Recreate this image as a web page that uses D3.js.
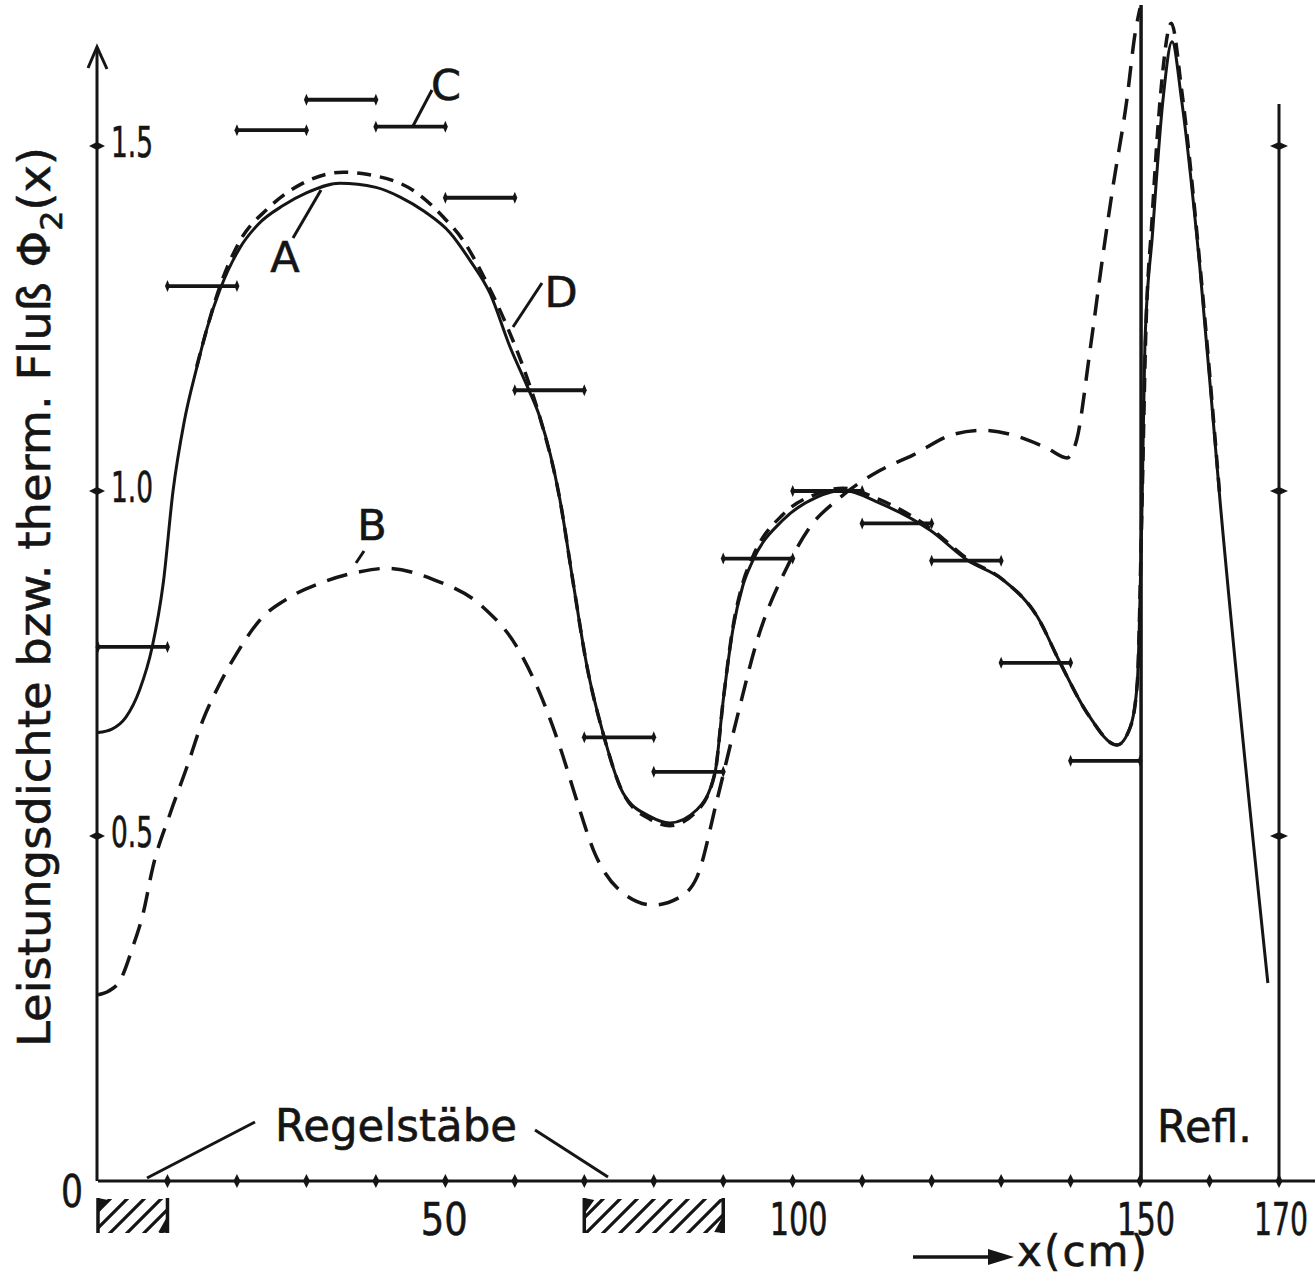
<!DOCTYPE html>
<html>
<head>
<meta charset="utf-8">
<script src="https://cdn.jsdelivr.net/npm/d3@7"></script>
<style>
  body { margin: 0; background: #fff; }
  svg { display: block; }
  text { font-family: "DejaVu Sans", sans-serif; fill: #151515; stroke: #151515; stroke-width: 0.6; }
</style>
</head>
<body>
<svg id="chart" width="1315" height="1277"></svg>
<script>
// Kurve A (ausgezogen): [x (cm), Phi]
var curveA = [
  [0, 0.650], [2, 0.655], [4, 0.672], [6, 0.712], [7.8, 0.774], [9.4, 0.867],
  [10.8, 1.000], [12.4, 1.100], [14.2, 1.178], [15.7, 1.236], [17.6, 1.293],
  [20.4, 1.352], [23, 1.386], [26.7, 1.414], [30, 1.432], [34.8, 1.446],
  [40, 1.440], [43.5, 1.426], [47, 1.405], [50.7, 1.374], [53.5, 1.335],
  [56.4, 1.287], [59.3, 1.209], [61.9, 1.149], [63.6, 1.107], [66.5, 0.987],
  [68.4, 0.867], [70.4, 0.745], [72.7, 0.649], [75.6, 0.562], [79.5, 0.528],
  [82.3, 0.519], [86.2, 0.538], [88.8, 0.591], [90.0, 0.697], [91.4, 0.800],
  [92.8, 0.862], [94.3, 0.900], [98.6, 0.958], [103.5, 0.991], [107.2, 1.001],
  [112.6, 0.982], [119.8, 0.943], [125.1, 0.900], [130.3, 0.871], [135.2, 0.818],
  [138.5, 0.751], [142.4, 0.678], [146.7, 0.632], [148.6, 0.658], [149.6, 0.722],
  [150.3, 0.987], [150.7, 1.214], [151.8, 1.374], [153.3, 1.567], [154.6, 1.651],
  [156.0, 1.565], [158.6, 1.325], [161.5, 0.987], [168.4, 0.287]
];

// Kurve B (gestrichelt, unten)
var curveB = [
  [0, 0.270], [1.5, 0.275], [3.2, 0.291], [5.0, 0.339], [6.5, 0.388], [7.9, 0.455],
  [10.4, 0.533], [12.8, 0.600], [15.1, 0.668], [17.6, 0.722], [20.0, 0.765],
  [23.3, 0.813], [27.6, 0.846], [32.4, 0.868], [37.7, 0.883], [41.6, 0.888],
  [48.2, 0.872], [55.4, 0.832], [60.3, 0.774], [63.6, 0.707], [66.5, 0.629],
  [68.9, 0.552], [71.3, 0.480], [75.6, 0.417], [79.9, 0.400], [83.5, 0.410],
  [86.2, 0.440], [89.1, 0.552], [92.0, 0.672], [94.9, 0.784], [99.2, 0.890],
  [102.5, 0.948], [106.4, 0.987], [112.6, 1.030], [117.3, 1.052], [123.1, 1.082],
  [127.4, 1.088], [132.7, 1.078], [136.6, 1.062], [139.5, 1.048], [140.9, 1.075],
  [142.8, 1.204], [144.7, 1.345], [146.1, 1.441], [148.1, 1.567], [149.3, 1.664],
  [150.0, 1.700]
];

// Kurve D (gestrichelt, dicht an A)
var curveD = [
  [14.2, 1.180], [17.6, 1.298], [20.4, 1.362], [24.3, 1.408], [29.1, 1.444],
  [35.3, 1.462], [38.7, 1.459], [45.9, 1.432], [49.7, 1.397], [52.5, 1.364],
  [56.0, 1.301], [58.3, 1.252], [61.9, 1.160], [63.6, 1.107], [66.5, 0.987],
  [68.4, 0.867], [70.4, 0.745], [72.7, 0.649], [75.6, 0.562], [79.5, 0.524],
  [82.3, 0.515], [86.2, 0.536], [88.8, 0.591], [90.0, 0.697], [91.4, 0.803],
  [92.8, 0.866], [94.3, 0.906], [98.6, 0.966], [103.5, 0.996], [107.2, 1.004],
  [112.6, 0.987], [119.8, 0.946], [125.1, 0.902], [130.3, 0.871], [135.2, 0.818],
  [138.5, 0.751], [142.4, 0.678], [146.7, 0.632], [148.6, 0.658], [149.6, 0.722],
  [150.3, 0.990], [150.8, 1.220], [151.7, 1.390], [153.0, 1.580], [154.5, 1.678],
  [156.0, 1.580], [158.6, 1.330], [161.5, 0.990]
];

// Histogramm C: Stufen je 10 cm
var binStart = [0, 10, 20, 30, 40, 50, 60, 70, 80, 90, 100, 110, 120, 130, 140];
var binValue = [0.774, 1.297, 1.523, 1.567, 1.528, 1.425, 1.146, 0.643, 0.593,
                0.902, 1.000, 0.953, 0.899, 0.751, 0.609];

var xTicks = [10, 20, 30, 40, 50, 60, 70, 80, 90, 100, 110, 120, 130, 140, 150, 160, 170];
var xTickLabels = [50, 100, 150, 170];
var yTicks = [0.5, 1.0, 1.5];
var yTickLabels = ["0.5", "1.0", "1.5"];
var rods = [[0, 10], [70, 90]];   // Regelstäbe

var svg = d3.select("#chart");
svg.append("rect").attr("width", 1315).attr("height", 1277).attr("fill", "#fff");

var x = d3.scaleLinear().domain([0, 170]).range([98, 1279]);
var y = d3.scaleLinear().domain([0, 1.5]).range([1181, 146]);

var ink = "#151515";

// Schraffur
var defs = svg.append("defs");
defs.append("pattern")
    .attr("id", "hatch")
    .attr("patternUnits", "userSpaceOnUse")
    .attr("width", 17).attr("height", 17)
  .append("path")
    .attr("d", "M-4,21 L21,-4 M-4,4 L4,-4 M13,21 L21,13")
    .attr("stroke", ink).attr("stroke-width", 3.2);

// Achsen
var g = svg.append("g");
g.append("line")
    .attr("x1", x(0)).attr("x2", 1315)
    .attr("y1", y(0)).attr("y2", y(0))
    .attr("stroke", ink).attr("stroke-width", 3.2);
g.append("line")
    .attr("x1", x(0) - 1).attr("x2", x(0) - 1)
    .attr("y1", y(0)).attr("y2", 48)
    .attr("stroke", ink).attr("stroke-width", 3);
g.append("path")
    .attr("d", "M88,68 L97,47 L107,69")
    .attr("fill", "none").attr("stroke", ink).attr("stroke-width", 3);

// Grenzen bei 150 und 170 cm
g.append("line")
    .attr("x1", x(150) + 1).attr("x2", x(150) + 1)
    .attr("y1", y(0)).attr("y2", 5)
    .attr("stroke", ink).attr("stroke-width", 3.5);
g.append("line")
    .attr("x1", x(170)).attr("x2", x(170))
    .attr("y1", y(0)).attr("y2", 104)
    .attr("stroke", ink).attr("stroke-width", 3);

function diamond(cx, cy, w, h) {
  return "M" + (cx - w) + "," + cy + "L" + cx + "," + (cy - h) + "L" + (cx + w) + "," + cy + "L" + cx + "," + (cy + h) + "Z";
}

// x-Ticks (Rauten)
g.selectAll(".xt").data(xTicks).enter().append("path")
    .attr("class", "xt")
    .attr("d", function(d) { return diamond(x(d), y(0), 3.5, 7); })
    .attr("fill", ink);

// y-Ticks links und rechts
g.selectAll(".yt").data(yTicks).enter().append("path")
    .attr("class", "yt")
    .attr("d", function(d) { return diamond(x(0) - 1, y(d), 8, 4); })
    .attr("fill", ink);
g.selectAll(".yt2").data(yTicks).enter().append("path")
    .attr("class", "yt2")
    .attr("d", function(d) { return diamond(x(170), y(d), 9, 4); })
    .attr("fill", ink);

// Tick-Beschriftungen
g.selectAll(".xl").data(xTickLabels).enter().append("text")
    .attr("class", "xl")
    .attr("x", function(d) { return x(d) + (d === 170 ? 2 : d >= 100 ? 6 : -1); })
    .attr("y", 1235)
    .attr("text-anchor", "middle")
    .attr("font-size", 45)
    .attr("textLength", function(d) { return d === 170 ? 54 : d >= 100 ? 58 : 47; })
    .attr("lengthAdjust", "spacingAndGlyphs")
    .text(function(d) { return d; });

g.selectAll(".yl").data(yTicks).enter().append("text")
    .attr("class", "yl")
    .attr("x", 111)
    .attr("y", function(d) { return y(d) + 11; })
    .attr("font-size", 42)
    .attr("textLength", 42)
    .attr("lengthAdjust", "spacingAndGlyphs")
    .text(function(d, i) { return yTickLabels[i]; });

g.append("text")
    .attr("x", 72).attr("y", 1207)
    .attr("text-anchor", "middle")
    .attr("font-size", 45)
    .attr("textLength", 22)
    .attr("lengthAdjust", "spacingAndGlyphs")
    .text("0");

// Regelstäbe (schraffiert)
var rod = g.selectAll(".rod").data(rods).enter().append("g").attr("class", "rod");
rod.append("rect")
    .attr("x", function(d) { return x(d[0]); })
    .attr("y", 1199)
    .attr("width", function(d) { return x(d[1]) - x(d[0]); })
    .attr("height", 34)
    .attr("fill", "url(#hatch)");
rod.append("path")
    .attr("d", function(d) {
      var a = x(d[0]), b = x(d[1]);
      return "M" + a + ",1198 L" + a + ",1233 M" + b + ",1198 L" + b + ",1233";
    })
    .attr("stroke", ink).attr("stroke-width", 3.5);
rod.append("path")
    .attr("d", function(d) {
      var a = x(d[0]), b = x(d[1]);
      return "M" + a + ",1198 L" + (a + 10) + ",1200 L" + a + ",1214 Z M" +
             b + ",1233 L" + (b - 9) + ",1232 L" + b + ",1216 Z";
    })
    .attr("fill", ink);

// Histogramm C
var bars = svg.append("g");
bars.selectAll(".bar").data(binStart).enter().append("line")
    .attr("class", "bar")
    .attr("x1", function(d) { return x(d); })
    .attr("x2", function(d) { return x(d + 10); })
    .attr("y1", function(d, i) { return y(binValue[i]); })
    .attr("y2", function(d, i) { return y(binValue[i]); })
    .attr("stroke", ink).attr("stroke-width", 3.8);
bars.selectAll(".cap").data(binStart.concat(binStart.map(function(d) { return d + 10; })))
  .enter().append("path")
    .attr("class", "cap")
    .attr("d", function(d, i) {
      var k = i % binStart.length;
      return diamond(x(d), y(binValue[k]), 2.5, 6);
    })
    .attr("fill", ink);

// Kurven
var line = d3.line()
    .x(function(d) { return x(d[0]); })
    .y(function(d) { return y(d[1]); })
    .curve(d3.curveMonotoneX);

var curves = svg.append("g").attr("fill", "none").attr("stroke", ink);
curves.append("path").datum(curveB)
    .attr("d", line)
    .attr("stroke-width", 3.5)
    .attr("stroke-dasharray", "21 12");
curves.append("path").datum(curveD)
    .attr("d", line)
    .attr("stroke-width", 3.5)
    .attr("stroke-dasharray", "14 9");
curves.append("path").datum(curveA)
    .attr("d", line)
    .attr("stroke-width", 3);

// Bezeichnungen
var labels = svg.append("g");
var leaders = [
  [293, 238, 321, 190],   // A
  [356, 563, 364, 551],   // B
  [413, 126, 432, 90],    // C
  [513, 327, 542, 283],   // D
  [147, 1178, 255, 1122], // Regelstäbe links
  [535, 1130, 608, 1177]  // Regelstäbe rechts
];
labels.selectAll(".lead").data(leaders).enter().append("line")
    .attr("class", "lead")
    .attr("x1", function(d) { return d[0]; }).attr("y1", function(d) { return d[1]; })
    .attr("x2", function(d) { return d[2]; }).attr("y2", function(d) { return d[3]; })
    .attr("stroke", ink).attr("stroke-width", 3);

var letters = [["A", 285, 272], ["B", 372, 540], ["C", 446, 100], ["D", 561, 307]];
labels.selectAll(".let").data(letters).enter().append("text")
    .attr("class", "let")
    .attr("x", function(d) { return d[1]; })
    .attr("y", function(d) { return d[2]; })
    .attr("text-anchor", "middle")
    .attr("font-size", 43)
    .text(function(d) { return d[0]; });

labels.append("text")
    .attr("x", 275).attr("y", 1141)
    .attr("font-size", 44)
    .attr("textLength", 242)
    .attr("lengthAdjust", "spacingAndGlyphs")
    .text("Regelstäbe");

labels.append("text")
    .attr("x", 1157).attr("y", 1142)
    .attr("font-size", 44)
    .attr("textLength", 95)
    .attr("lengthAdjust", "spacingAndGlyphs")
    .text("Refl.");

// x-Achsentitel mit Pfeil
labels.append("line")
    .attr("x1", 913).attr("x2", 1000)
    .attr("y1", 1257).attr("y2", 1257)
    .attr("stroke", ink).attr("stroke-width", 3.5);
labels.append("path")
    .attr("d", "M988,1249 L1014,1257 L988,1265 Z")
    .attr("fill", ink);
labels.append("text")
    .attr("x", 1017).attr("y", 1266)
    .attr("font-size", 42)
    .attr("textLength", 130)
    .attr("lengthAdjust", "spacing")
    .text("x(cm)");

// y-Achsentitel
var yt = labels.append("text")
    .attr("transform", "translate(50,597) rotate(-90)")
    .attr("text-anchor", "middle")
    .attr("font-size", 44)
    .attr("textLength", 900)
    .attr("lengthAdjust", "spacingAndGlyphs");
yt.append("tspan").text("Leistungsdichte  bzw.  therm. Fluß  Φ");
yt.append("tspan").attr("font-size", 30).attr("dy", 12).text("2");
yt.append("tspan").attr("dy", -12).text("(x)");
</script>
</body>
</html>
